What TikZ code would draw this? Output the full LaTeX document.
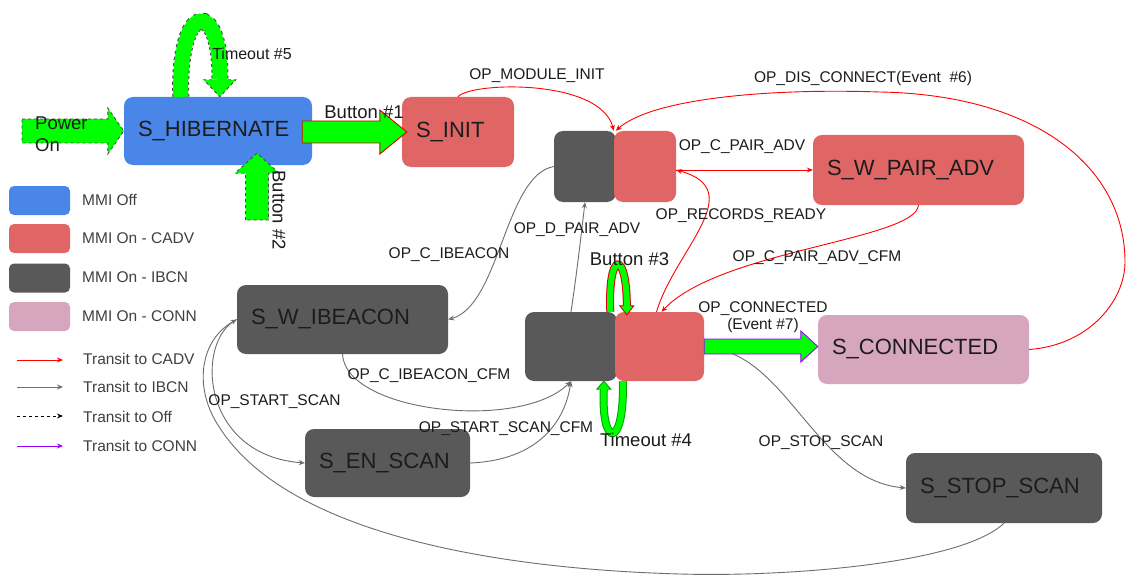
\documentclass[tikz,border=0pt]{standalone}
\usepackage{fontspec}
\setmainfont{Liberation Sans}
\usetikzlibrary{arrows.meta,calc}
\definecolor{cblue}{RGB}{74,134,232}
\definecolor{cred}{RGB}{224,102,102}
\definecolor{cdark}{RGB}{89,89,89}
\definecolor{cpink}{RGB}{213,166,189}
\definecolor{cgreen}{RGB}{0,255,0}
\definecolor{cgreenD}{RGB}{0,160,0}
\definecolor{tred}{RGB}{255,0,0}
\definecolor{tgrey}{RGB}{110,110,110}
\definecolor{tpurple}{RGB}{153,0,255}
\definecolor{txt}{RGB}{28,28,28}
\begin{document}
\begin{tikzpicture}[x=1pt,y=-1pt,
  stnode/.style={rounded corners=9pt, inner xsep=14pt, inner ysep=0pt, align=left, font=\fontsize{22}{26}\selectfont, text=txt},
  blkbox/.style={rounded corners=9pt, inner sep=0pt},
  elabel/.style={font=\fontsize{15.5}{17}\selectfont, text=txt, inner sep=0pt},
  biglabel/.style={font=\fontsize{18.5}{22}\selectfont, text=txt, inner sep=0pt},
  legtext/.style={font=\fontsize{15.5}{18}\selectfont, text=black!75, inner sep=0pt, anchor=west},
  legbox/.style={rounded corners=5pt, minimum width=61pt, minimum height=29pt, inner sep=0pt},
  arrtip/.style={-{Stealth[length=6pt,width=5pt]}},
  redE/.style={arrtip, draw=tred, line width=0.9pt},
  greyE/.style={arrtip, draw=tgrey, line width=0.9pt},
  blackE/.style={arrtip, draw=black, line width=0.9pt, dashed},
  purpleE/.style={arrtip, draw=tpurple, line width=0.9pt},
  fatarr/.style={fill=cgreen, line width=0.9pt, line join=miter},
  shaftD/.style={draw=cgreen, line width=15pt, preaction={draw=black!70, dashed, line width=17pt}},
  shaftR/.style={draw=cgreen, line width=6pt, preaction={draw=red!85!black, line width=8pt}},
  shaftG/.style={draw=cgreen, line width=6pt, preaction={draw=cgreenD, line width=8pt}},
]
\useasboundingbox[fill=white] (0,0) rectangle (1127,575);

% ---------- state nodes
\node[stnode, fill=cblue, minimum width=188pt, minimum height=68pt, text width=160pt] (hib) at (218,131) {S\_HIBERNATE};
\node[stnode, fill=cred, minimum width=112pt, minimum height=70pt, text width=84pt] (init) at (458,132) {S\_INIT};
\node[blkbox, fill=cdark, minimum width=62pt, minimum height=71pt] (pd) at (585,166.5) {};
\node[blkbox, fill=cred, minimum width=62pt, minimum height=71pt] (pr) at (645,166.5) {};
\node[stnode, fill=cred, minimum width=211pt, minimum height=70pt, text width=183pt] (wpair) at (918.5,170) {S\_W\_PAIR\_ADV};
\node[stnode, fill=cdark, minimum width=211pt, minimum height=69pt, text width=183pt] (wib) at (342.5,319.5) {S\_W\_IBEACON};
\node[blkbox, fill=cdark, minimum width=92pt, minimum height=69pt] (cd) at (571,346.5) {};
\node[blkbox, fill=cred, minimum width=89pt, minimum height=69pt] (cr) at (659.5,346.5) {};
\node[stnode, fill=cpink, minimum width=211pt, minimum height=69pt, text width=183pt] (conn) at (923.5,349.5) {S\_CONNECTED};
\node[stnode, fill=cdark, minimum width=165pt, minimum height=68pt, text width=137pt] (enscan) at (387.5,463) {S\_EN\_SCAN};
\node[stnode, fill=cdark, minimum width=196pt, minimum height=70pt, text width=168pt] (stop) at (1004,488) {S\_STOP\_SCAN};

% ---------- legend
\node[legbox, fill=cblue] (lg1) at (39.5,200.5) {};
\node[legbox, fill=cred] (lg2) at (39.5,238.5) {};
\node[legbox, fill=cdark] (lg3) at (39.5,278) {};
\node[legbox, fill=cpink] (lg4) at (39.5,316.5) {};
\node[legtext] (lt1) at (82,199.5) {MMI Off};
\node[legtext] (lt2) at (82,238) {MMI On - CADV};
\node[legtext] (lt3) at (82,277) {MMI On - IBCN};
\node[legtext] (lt4) at (82,316) {MMI On - CONN};
\coordinate (la1) at (17,360); \coordinate (lb1) at (63,360);
\coordinate (la2) at (17,387); \coordinate (lb2) at (63,387);
\coordinate (la3) at (17,416); \coordinate (lb3) at (63,416);
\coordinate (la4) at (17,446); \coordinate (lb4) at (63,446);
\draw[redE] (la1) -- (lb1);
\draw[greyE] (la2) -- (lb2);
\draw[blackE] (la3) -- (lb3);
\draw[purpleE] (la4) -- (lb4);
\node[legtext] (lt5) at (83,359) {Transit to CADV};
\node[legtext] (lt6) at (83,387) {Transit to IBCN};
\node[legtext] (lt7) at (83,417) {Transit to Off};
\node[legtext] (lt8) at (83,446) {Transit to CONN};

% ---------- red transitions
\coordinate (pre) at (pr.east |- wpair.west);
\draw[redE] (init.north) .. controls (470,82) and (600,78) .. (pr.north west);
\draw[redE] (conn.east) .. controls (1090,345) and (1125,300) .. (1125,262)
   .. controls (1125,170) and (1040,95) .. (880,92)
   .. controls (760,88) and (650,100) .. ($(pr.north west)+(2,0)$);
\draw[redE] (pre) -- (wpair.west);
\draw[redE] ($(cr.north)+(-3,0)$) .. controls (675,250) and (750,190) .. (pre);
\draw[redE] (wpair.south) .. controls (915,240) and (720,250) .. ($(cr.north)+(2,0)$);

% ---------- grey transitions
\draw[greyE] (cd.north) .. controls (577,270) .. (pd.south);
\draw[greyE] (pd.west) .. controls (505,175) and (500,305) .. (wib.east);
\draw[greyE] (wib.south) .. controls (345,412) and (520,432) .. (cd.south);
\draw[greyE] (wib.west) .. controls (195,340) and (200,455) .. (enscan.west);
\draw[greyE] (enscan.east) .. controls (540,460) and (565,420) .. (cd.south);
\draw[greyE] ($(cr.east)+(0,1.5)$) .. controls (785,348) and (815,480) .. (stop.west);
\draw[greyE] (stop.south) .. controls (960,565) and (780,577) .. (680,574)
   .. controls (500,569) and (280,535) .. (215,420)
   .. controls (195,385) and (200,340) .. (wib.west);

% ---------- fat green arrows
\coordinate (pwr) at (22,131);
\filldraw[fatarr, draw=black!70, dashed] ($(pwr)+(0,-12)$) -- ($(hib.west)+(-16,-12)$) -- ($(hib.west)+(-16,-23)$) -- (hib.west) -- ($(hib.west)+(-16,23)$) -- ($(hib.west)+(-16,12)$) -- ($(pwr)+(0,12)$) -- cycle;

\coordinate (b1s) at (hib.east |- init.west);
\filldraw[fatarr, draw=red!85!black] ($(b1s)+(-10,-11)$) -- ($(init.west)+(-22,-11)$) -- ($(init.west)+(-22,-22)$) -- ($(init.west)+(5,0)$) -- ($(init.west)+(-22,22)$) -- ($(init.west)+(-22,11)$) -- ($(b1s)+(-10,11)$) -- cycle;

\coordinate (b2) at (257,220);
\coordinate (b2t) at ($(hib.south)+(39,-12)$);
\filldraw[fatarr, draw=black!70, dashed] ($(b2)+(-11.5,0)$) -- ($(b2t)+(-11.5,20)$) -- ($(b2t)+(-22,20)$) -- (b2t) -- ($(b2t)+(22,20)$) -- ($(b2t)+(11.5,20)$) -- ($(b2)+(11.5,0)$) -- cycle;

\coordinate (ct) at (conn.west |- cr.east);
\filldraw[fatarr, draw=tpurple] ($(cr.east)+(0,-7.5)$) -- ($(ct)+(-17,-7.5)$) -- ($(ct)+(-17,-15.5)$) -- (ct) -- ($(ct)+(-17,15.5)$) -- ($(ct)+(-17,7.5)$) -- ($(cr.east)+(0,7.5)$) -- cycle;

% Timeout #5 loop
\coordinate (hn) at (hib.north west);
\draw[shaftD] ($(hn)+(57,0)$) .. controls ($(hn)+(54,-98)$) and ($(hn)+(98,-98)$) .. ($(hn)+(96,-17)$);
\fill[cgreen] ($(hn)+(80,-17)$) -- ($(hn)+(96,0)$) -- ($(hn)+(112,-17)$) -- cycle;
\draw[black!70, dashed, line width=0.9pt] ($(hn)+(88.5,-17)$) -- ($(hn)+(80,-17)$) -- ($(hn)+(96,0)$) -- ($(hn)+(112,-17)$) -- ($(hn)+(103.5,-17)$);

% Button #3 loop
\coordinate (cn) at (cr.north west);
\draw[shaftR] ($(cn)+(-4.5,0)$) .. controls ($(cn)+(-7,-62)$) and ($(cn)+(12,-62)$) .. ($(cn)+(12,-6)$);
\fill[cgreen] ($(cn)+(5,-6)$) -- ($(cn)+(12,3)$) -- ($(cn)+(19,-6)$) -- cycle;
\draw[red!85!black, line width=0.9pt] ($(cn)+(8,-6)$) -- ($(cn)+(5,-6)$) -- ($(cn)+(12,3)$) -- ($(cn)+(19,-6)$) -- ($(cn)+(16,-6)$);

% Timeout #4 loop
\coordinate (cs) at (cr.south west);
\draw[shaftG] ($(cs)+(8,0)$) .. controls ($(cs)+(10,68)$) and ($(cs)+(-14,68)$) .. ($(cs)+(-11,8)$);
\fill[cgreen] ($(cs)+(-18,8)$) -- ($(cs)+(-11,0)$) -- ($(cs)+(-4,8)$) -- cycle;
\draw[cgreenD, line width=0.9pt] ($(cs)+(-15,8)$) -- ($(cs)+(-18,8)$) -- ($(cs)+(-11,0)$) -- ($(cs)+(-4,8)$) -- ($(cs)+(-7,8)$);

% ---------- labels
\node[elabel] (l1) at (537,76) {OP\_MODULE\_INIT};
\node[elabel] (l2) at (863,78) {OP\_DIS\_CONNECT(Event\ \ \#6)};
\node[elabel] (l3) at (742,147) {OP\_C\_PAIR\_ADV};
\node[elabel] (l4) at (741,216) {OP\_RECORDS\_READY};
\node[elabel] (l5) at (577,230) {OP\_D\_PAIR\_ADV};
\node[elabel] (l6) at (449,255) {OP\_C\_IBEACON};
\node[elabel] (l7) at (817,258) {OP\_C\_PAIR\_ADV\_CFM};
\node[biglabel] (l8) at (629.5,259) {Button \#3};
\node[elabel, align=center] (l9) at (763,317) {OP\_CONNECTED\\(Event \#7)};
\node[elabel] (l10) at (429,376) {OP\_C\_IBEACON\_CFM};
\node[elabel] (l11) at (274.5,402) {OP\_START\_SCAN};
\node[elabel] (l12) at (506,429) {OP\_START\_SCAN\_CFM};
\node[biglabel] (l13) at (646,440) {Timeout \#4};
\node[elabel] (l14) at (821,443) {OP\_STOP\_SCAN};
\node[biglabel] (l15) at (364,112) {Button \#1};
\node[font=\fontsize{16}{19}\selectfont, text=txt, inner sep=0pt] (l16) at (252,54) {Timeout \#5};
\node[biglabel, rotate=-90] (l17) at (279,210) {Button \#2};
\node[biglabel, align=left, anchor=west] (l18) at (35,134) {Power\\On};
\end{tikzpicture}
\end{document}
